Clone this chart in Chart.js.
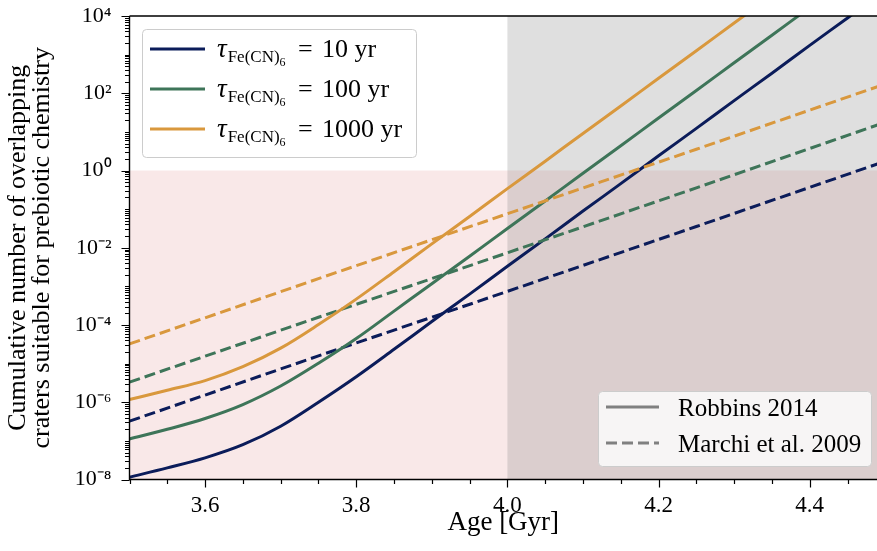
<!DOCTYPE html>
<html>
<head>
<meta charset="utf-8">
<script src="https://cdn.jsdelivr.net/npm/chart.js@4.4.1/dist/chart.umd.min.js"></script>
<style>
    html, body { margin: 0; padding: 0; background: #fff; }
    #wrap { width: 877px; height: 551px; position: relative; }
</style>
</head>
<body>
<div id="wrap"><canvas id="craterChart"></canvas></div>
<script>
    "use strict";

    // age grid of the Robbins 2014 curves [Gyr]
    const ages = [3.50, 3.55, 3.60, 3.65, 3.70, 3.75, 3.80, 3.85, 3.90, 3.95, 4.00,
        4.05, 4.10, 4.15, 4.20, 4.25, 4.30, 4.35, 4.40, 4.45, 4.50];
    // log10 of cumulative number of craters
    const robbins10 = [-7.94, -7.70, -7.44, -7.10, -6.62, -6.00, -5.34, -4.63, -3.91, -3.20, -2.48,
        -1.77, -1.05, -0.34, 0.38, 1.09, 1.81, 2.52, 3.24, 3.95, 4.67];
    const robbins100 = [-6.95, -6.70, -6.42, -6.06, -5.58, -4.99, -4.35, -3.64, -2.93, -2.22, -1.50,
        -0.79, -0.07, 0.64, 1.36, 2.07, 2.79, 3.50, 4.22, 4.93, 5.65];
    const robbins1000 = [-5.93, -5.69, -5.44, -5.08, -4.60, -3.99, -3.33, -2.62, -1.90, -1.19, -0.47,
        0.24, 0.96, 1.67, 2.39, 3.10, 3.82, 4.53, 5.25, 5.96, 6.68];

    // Marchi et al. 2009 curves are straight on the log axis
    const marchiAges = [3.50, 3.75, 4.00, 4.25, 4.50];
    const marchi10 = [-6.49, -4.80, -3.13, -1.45, 0.24];
    const marchi100 = [-5.48, -3.80, -2.13, -0.45, 1.25];
    const marchi1000 = [-4.49, -2.80, -1.12, 0.55, 2.24];

    const lifetimes = ["10", "100", "1000"];
    const xTickLabels = ["3.6", "3.8", "4.0", "4.2", "4.4"];
    const yTickExponents = [-8, -6, -4, -2, 0, 2, 4];
    const sourceNames = ["Robbins 2014", "Marchi et al. 2009"];

    const shadeAge = 4.0;      // grey band starts here
    const shadeLevel = 1;      // pink band below this number

    const colors = ["#0b1c5a", "#3e7559", "#d9983d"];
    const serif = '"Liberation Serif", "Times New Roman", serif';

    const sup = {"-": "\u207B", "0": "\u2070", "1": "\u00B9", "2": "\u00B2", "3": "\u00B3",
        "4": "\u2074", "5": "\u2075", "6": "\u2076", "7": "\u2077", "8": "\u2078", "9": "\u2079"};

    function toPoints(xs, logs) {
        return xs.map(function (x, i) {
            return {x: x, y: Math.pow(10, logs[i])};
        });
    }

    function isLabelledAge(value) {
        return Math.abs(value * 10 - Math.round(value * 10)) < 1e-6 && xTickLabels.indexOf(Number(value).toFixed(1)) >= 0;
    }

    function labelledExponent(value) {
        const e = Math.log10(value);
        const r = Math.round(e);
        if (Math.abs(e - r) > 1e-6 || yTickExponents.indexOf(r) < 0) return null;
        return r;
    }

    const solidSets = [robbins10, robbins100, robbins1000];
    const dashedSets = [marchi10, marchi100, marchi1000];
    const datasets = [];
    for (let i = 0; i < 3; i++) {
        datasets.push({
            data: toPoints(ages, solidSets[i]),
            borderColor: colors[i],
            borderWidth: 3,
            pointRadius: 0,
            cubicInterpolationMode: "monotone",
            order: 6 - 2 * i
        });
        datasets.push({
            data: toPoints(marchiAges, dashedSets[i]),
            borderColor: colors[i],
            borderWidth: 3,
            borderDash: [11, 5],
            pointRadius: 0,
            order: 5 - 2 * i
        });
    }

    // background bands, spines, ticks and legends
    const decorPlugin = {
        id: "decor",
        beforeDatasetsDraw: function (chart) {
            const ctx = chart.ctx, a = chart.chartArea;
            const xs = chart.scales.x, ys = chart.scales.y;
            const yOne = ys.getPixelForValue(shadeLevel);
            const xFour = xs.getPixelForValue(shadeAge);
            ctx.save();
            ctx.fillStyle = "rgba(220, 110, 110, 0.16)";
            ctx.fillRect(a.left, yOne, a.right - a.left, a.bottom - yOne);
            ctx.fillStyle = "rgba(128, 128, 128, 0.25)";
            ctx.fillRect(xFour, a.top, a.right - xFour, a.bottom - a.top);
            ctx.restore();
        },
        afterDatasetsDraw: function (chart) {
            const ctx = chart.ctx, a = chart.chartArea;
            const xs = chart.scales.x, ys = chart.scales.y;
            ctx.save();
            ctx.strokeStyle = "#000";
            ctx.lineWidth = 1.4;
            ctx.beginPath();
            ctx.moveTo(a.left, a.top);
            ctx.lineTo(a.right, a.top);
            ctx.moveTo(a.left, a.top);
            ctx.lineTo(a.left, a.bottom);
            ctx.lineTo(a.right, a.bottom);
            ctx.stroke();

            ctx.lineWidth = 1.2;
            ctx.beginPath();
            xs.ticks.forEach(function (t) {
                const px = Math.round(xs.getPixelForValue(t.value)) + 0.5;
                ctx.moveTo(px, a.bottom);
                ctx.lineTo(px, a.bottom + (isLabelledAge(t.value) ? 8 : 4.5));
            });
            ys.ticks.forEach(function (t) {
                const py = Math.round(ys.getPixelForValue(t.value)) + 0.5;
                ctx.moveTo(a.left, py);
                ctx.lineTo(a.left - (labelledExponent(t.value) !== null ? 8 : 4.5), py);
            });
            ctx.stroke();
            ctx.restore();
        },
        afterDraw: function (chart) {
            const ctx = chart.ctx;
            ctx.save();

            function box(x, y, w, h) {
                const r = 4;
                ctx.beginPath();
                ctx.moveTo(x + r, y);
                ctx.arcTo(x + w, y, x + w, y + h, r);
                ctx.arcTo(x + w, y + h, x, y + h, r);
                ctx.arcTo(x, y + h, x, y, r);
                ctx.arcTo(x, y, x + w, y, r);
                ctx.closePath();
                ctx.fillStyle = "rgba(255, 255, 255, 0.8)";
                ctx.fill();
                ctx.strokeStyle = "#cccccc";
                ctx.lineWidth = 1;
                ctx.stroke();
            }

            // lifetime legend
            box(142.5, 29.5, 274, 128);
            ctx.fillStyle = "#000";
            ctx.textBaseline = "alphabetic";
            for (let i = 0; i < 3; i++) {
                const ly = 49 + 40 * i;
                ctx.strokeStyle = colors[i];
                ctx.lineWidth = 3;
                ctx.beginPath();
                ctx.moveTo(150, ly);
                ctx.lineTo(205, ly);
                ctx.stroke();

                const base = ly + 8;
                ctx.font = "italic 27px " + serif;
                ctx.fillText("\u03C4", 217, base);
                let cx = 217 + ctx.measureText("\u03C4").width + 1;
                ctx.font = "17px " + serif;
                ctx.fillText("Fe(CN)", cx, base + 5);
                cx += ctx.measureText("Fe(CN)").width;
                ctx.font = "12px " + serif;
                ctx.fillText("6", cx, base + 9);
                ctx.font = "26px " + serif;
                ctx.fillText("=", 298, base);
                ctx.fillText(lifetimes[i] + " yr", 322, base);
            }

            // data source legend
            box(598.5, 391.5, 273, 75);
            ctx.strokeStyle = "#808080";
            ctx.lineWidth = 3;
            ctx.beginPath();
            ctx.moveTo(606, 407);
            ctx.lineTo(659, 407);
            ctx.stroke();
            ctx.setLineDash([11, 5]);
            ctx.beginPath();
            ctx.moveTo(606, 443);
            ctx.lineTo(659, 443);
            ctx.stroke();
            ctx.setLineDash([]);
            ctx.fillStyle = "#000";
            ctx.font = "25px " + serif;
            ctx.fillText(sourceNames[0], 678, 416);
            ctx.fillText(sourceNames[1], 678, 452);
            ctx.restore();
        }
    };

    const ctx = document.getElementById("craterChart");
    new Chart(ctx, {
        type: "line",
        data: {datasets: datasets},
        plugins: [decorPlugin],
        options: {
            responsive: true,
            maintainAspectRatio: false,
            animation: false,
            layout: {
                padding: {top: 16, left: 0, right: 0, bottom: 0}
            },
            plugins: {
                legend: {display: false},
                tooltip: {enabled: false}
            },
            scales: {
                x: {
                    type: "linear",
                    min: 3.5,
                    max: 4.489,
                    border: {display: false},
                    grid: {display: false, drawTicks: false},
                    afterBuildTicks: function (scale) {
                        const t = [];
                        for (let v = 3.5; v < 4.49; v += 0.05) {
                            t.push({value: Math.round(v * 100) / 100});
                        }
                        scale.ticks = t;
                    },
                    afterFit: function (scale) {
                        scale.height = 71.5;
                        scale.paddingLeft = 0;
                        scale.paddingRight = 0;
                    },
                    ticks: {
                        autoSkip: false,
                        maxRotation: 0,
                        padding: 13,
                        color: "#000",
                        font: {family: serif, size: 23},
                        callback: function (value) {
                            return isLabelledAge(value) ? Number(value).toFixed(1) : "";
                        }
                    },
                    title: {
                        display: true,
                        text: "Age [Gyr]",
                        color: "#000",
                        font: {family: serif, size: 27},
                        padding: {top: 0, bottom: 12}
                    }
                },
                y: {
                    type: "logarithmic",
                    min: 1e-8,
                    max: 1e4,
                    border: {display: false},
                    grid: {display: false, drawTicks: false},
                    afterBuildTicks: function (scale) {
                        const t = [];
                        for (let e = -8; e <= 4; e++) {
                            for (let k = 1; k <= 9; k++) {
                                if (e === 4 && k > 1) break;
                                t.push({value: k * Math.pow(10, e)});
                            }
                        }
                        scale.ticks = t;
                    },
                    afterFit: function (scale) {
                        scale.width = 129.5;
                        scale.paddingTop = 0;
                        scale.paddingBottom = 0;
                    },
                    ticks: {
                        autoSkip: false,
                        padding: 18,
                        color: "#000",
                        font: {family: serif, size: 22},
                        callback: function (value) {
                            const r = labelledExponent(value);
                            if (r === null) return "";
                            return "10" + String(r).split("").map(function (c) { return sup[c]; }).join("");
                        }
                    },
                    title: {
                        display: true,
                        text: ["Cumulative number of overlapping", "craters suitable for prebiotic chemistry"],
                        color: "#000",
                        font: {family: serif, size: 26, lineHeight: "24px"},
                        padding: {top: 6, bottom: 0}
                    }
                }
            }
        }
    });
</script>
</body>
</html>
